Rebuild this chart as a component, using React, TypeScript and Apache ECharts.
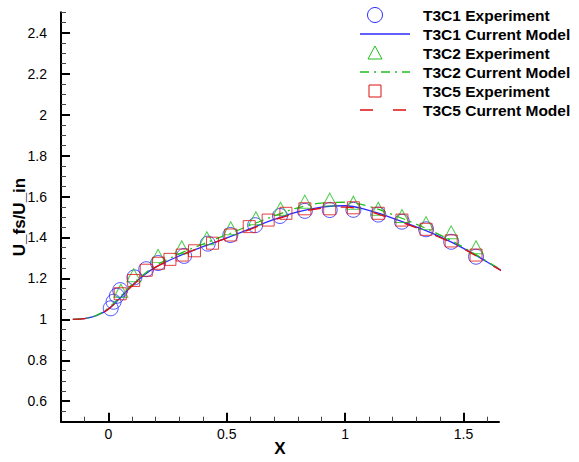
import React, { useEffect, useRef } from "react";
import * as echarts from "echarts";

// ---- Data ----
const modelX = [-0.15, -0.1, -0.05, 0, 0.05, 0.1, 0.15, 0.2, 0.3, 0.4, 0.5, 0.6, 0.7, 0.8, 0.9, 1.0, 1.1, 1.2, 1.3, 1.4, 1.5, 1.6, 1.71];
const t3c1Model = [1.0, 1.004, 1.018, 1.05, 1.105, 1.165, 1.215, 1.255, 1.31, 1.355, 1.398, 1.443, 1.488, 1.525, 1.548, 1.555, 1.532, 1.495, 1.452, 1.404, 1.347, 1.28, 1.203];
const t3c2Model = [1.0, 1.004, 1.02, 1.055, 1.11, 1.17, 1.22, 1.262, 1.32, 1.368, 1.413, 1.46, 1.505, 1.545, 1.568, 1.572, 1.552, 1.512, 1.465, 1.413, 1.352, 1.283, 1.205];
const t3c5Model = [1.0, 1.004, 1.018, 1.05, 1.105, 1.163, 1.213, 1.255, 1.31, 1.355, 1.397, 1.44, 1.485, 1.52, 1.543, 1.548, 1.528, 1.49, 1.448, 1.4, 1.345, 1.278, 1.204];

const t3c1ExpX = [0.01, 0.022, 0.036, 0.05, 0.11, 0.16, 0.21, 0.32, 0.42, 0.515, 0.62, 0.725, 0.83, 0.935, 1.035, 1.14, 1.24, 1.342, 1.448, 1.553];
const t3c1ExpY = [1.054, 1.086, 1.115, 1.143, 1.205, 1.245, 1.275, 1.31, 1.37, 1.412, 1.46, 1.505, 1.53, 1.534, 1.535, 1.512, 1.477, 1.44, 1.379, 1.306];

const t3c2ExpX = [0.053, 0.107, 0.21, 0.31, 0.416, 0.517, 0.623, 0.727, 0.83, 0.935, 1.035, 1.14, 1.24, 1.342, 1.448, 1.553];
const t3c2ExpY = [1.14, 1.215, 1.31, 1.352, 1.396, 1.445, 1.494, 1.54, 1.575, 1.585, 1.57, 1.54, 1.505, 1.47, 1.425, 1.352];

const t3c5ExpX = [0.05, 0.107, 0.16, 0.212, 0.26, 0.312, 0.364, 0.44, 0.517, 0.595, 0.675, 0.75, 0.83, 0.935, 1.035, 1.14, 1.24, 1.342, 1.448, 1.553];
const t3c5ExpY = [1.125, 1.19, 1.24, 1.274, 1.293, 1.314, 1.335, 1.372, 1.412, 1.453, 1.485, 1.518, 1.54, 1.54, 1.545, 1.518, 1.485, 1.44, 1.383, 1.314];

const xMajor = [0, 0.5, 1, 1.5];
const xMinor = [-0.1, 0.1, 0.2, 0.3, 0.4, 0.6, 0.7, 0.8, 0.9, 1.1, 1.2, 1.3, 1.4, 1.6];
const yMajor = [0.6, 0.8, 1, 1.2, 1.4, 1.6, 1.8, 2, 2.2, 2.4];
const yMinor = [0.55, 0.65, 0.7, 0.75, 0.85, 0.9, 0.95, 1.05, 1.1, 1.15, 1.25, 1.3, 1.35, 1.45, 1.5, 1.55, 1.65, 1.7, 1.75, 1.85, 1.9, 1.95, 2.05, 2.1, 2.15, 2.25, 2.3, 2.35, 2.45, 2.5];

const legendLabels = ["T3C1 Experiment", "T3C1 Current Model", "T3C2 Experiment", "T3C2 Current Model", "T3C5 Experiment", "T3C5 Current Model"];

const BLUE = "#2b2bff";
const GREEN = "#1fbf1f";
const RED = "#dd1111";
const FONT = '"Liberation Sans", Arial, Helvetica, sans-serif';

const zip = (xs: number[], ys: number[]) => xs.map((x, i) => [x, ys[i]]);

export default function App() {
  const ref = useRef<HTMLDivElement>(null);
  useEffect(() => {
    if (!ref.current) return;
    const chart = echarts.init(ref.current, null, { renderer: "svg" });
    const fmt = (v: number) => String(Math.round(v * 100) / 100);
    const rowsY = [15, 34, 53, 72, 91, 110];
    const lx = 375;
    const tx = 423;
    const graphics: any[] = [
      { type: "circle", shape: { cx: lx, cy: rowsY[0], r: 7.5 }, style: { fill: "none", stroke: BLUE, lineWidth: 1 } },
      { type: "line", shape: { x1: 360, y1: rowsY[1], x2: 410, y2: rowsY[1] }, style: { stroke: BLUE, lineWidth: 1.3 } },
      { type: "polygon", shape: { points: [[lx, rowsY[2] - 7], [lx - 7, rowsY[2] + 6], [lx + 7, rowsY[2] + 6]] }, style: { fill: "none", stroke: GREEN, lineWidth: 1 } },
      { type: "line", shape: { x1: 360, y1: rowsY[3], x2: 410, y2: rowsY[3] }, style: { stroke: GREEN, lineWidth: 1.3, lineDash: [9, 5, 2, 5] } },
      { type: "rect", shape: { x: lx - 6, y: rowsY[4] - 6, width: 12, height: 12 }, style: { fill: "none", stroke: RED, lineWidth: 1 } },
      { type: "line", shape: { x1: 360, y1: rowsY[5], x2: 410, y2: rowsY[5] }, style: { stroke: RED, lineWidth: 1.3, lineDash: [13, 20] } },
    ];
    legendLabels.forEach((t, i) => {
      graphics.push({
        type: "text",
        x: tx,
        y: rowsY[i],
        style: { text: t, fill: "#000", font: `bold 15.5px ${FONT}`, textVerticalAlign: "middle", textAlign: "left" },
      });
    });

    const baseX = {
      type: "value",
      min: -0.2,
      max: 1.65,
      splitLine: { show: false },
    };
    const baseY = {
      type: "value",
      min: 0.5,
      max: 2.5,
      splitLine: { show: false },
    };

    chart.setOption({
      animation: false,
      backgroundColor: "#fff",
      grid: { left: 61, right: 80, top: 12.3, bottom: 40.3, containLabel: false, outerBoundsMode: "none" },
      xAxis: [
        {
          ...baseX,
          position: "bottom",
          name: "X",
          nameLocation: "middle",
          nameGap: 18,
          nameMoveOverlap: false,
          nameTextStyle: { fontFamily: FONT, fontWeight: "bold", fontSize: 17, color: "#000" },
          axisLine: { show: true, onZero: false, lineStyle: { color: "#000", width: 2 } },
          axisTick: { show: true, inside: true, length: 9, lineStyle: { color: "#000", width: 2 }, customValues: xMajor },
          axisLabel: { show: true, customValues: xMajor, formatter: fmt, color: "#000", fontFamily: FONT, fontSize: 14, margin: 5 },
        },
        {
          ...baseX,
          position: "bottom",
          offset: 0,
          axisLine: { show: false, onZero: false },
          axisTick: { show: true, inside: true, length: 5, lineStyle: { color: "#444", width: 1 }, customValues: xMinor },
          axisLabel: { show: false },
        },
      ],
      yAxis: [
        {
          ...baseY,
          position: "left",
          name: "U_fs/U_in",
          nameLocation: "middle",
          nameGap: 33,
          nameMoveOverlap: false,
          nameTextStyle: { fontFamily: FONT, fontWeight: "bold", fontSize: 17, color: "#000" },
          axisLine: { show: true, onZero: false, lineStyle: { color: "#000", width: 2 } },
          axisTick: { show: true, inside: true, length: 9, lineStyle: { color: "#000", width: 2 }, customValues: yMajor },
          axisLabel: { show: true, customValues: yMajor, formatter: fmt, color: "#000", fontFamily: FONT, fontSize: 14, margin: 14 },
        },
        {
          ...baseY,
          position: "left",
          offset: 0,
          axisLine: { show: false, onZero: false },
          axisTick: { show: true, inside: true, length: 5, lineStyle: { color: "#444", width: 1 }, customValues: yMinor },
          axisLabel: { show: false },
        },
      ],
      series: [
        {
          type: "scatter",
          name: "T3C1 Experiment",
          data: zip(t3c1ExpX, t3c1ExpY),
          symbol: "circle",
          symbolSize: 15,
          itemStyle: { color: "none", borderColor: BLUE, borderWidth: 1 },
          z: 2,
        },
        {
          type: "line",
          name: "T3C1 Current Model",
          data: zip(modelX, t3c1Model),
          smooth: 0.4,
          showSymbol: false,
          clip: false,
          lineStyle: { color: BLUE, width: 1.3 },
          z: 3,
        },
        {
          type: "scatter",
          name: "T3C2 Experiment",
          data: zip(t3c2ExpX, t3c2ExpY),
          symbol: "triangle",
          symbolSize: [14, 13],
          itemStyle: { color: "none", borderColor: GREEN, borderWidth: 1 },
          z: 4,
        },
        {
          type: "line",
          name: "T3C2 Current Model",
          data: zip(modelX, t3c2Model),
          smooth: 0.4,
          showSymbol: false,
          clip: false,
          lineStyle: { color: GREEN, width: 1.3, type: [9, 5, 2, 5] },
          z: 5,
        },
        {
          type: "scatter",
          name: "T3C5 Experiment",
          data: zip(t3c5ExpX, t3c5ExpY),
          symbol: "rect",
          symbolSize: 12,
          itemStyle: { color: "none", borderColor: RED, borderWidth: 1 },
          z: 6,
        },
        {
          type: "line",
          name: "T3C5 Current Model",
          data: zip(modelX, t3c5Model),
          smooth: 0.4,
          showSymbol: false,
          clip: false,
          lineStyle: { color: RED, width: 1.3, type: [13, 20] },
          z: 7,
        },
      ],
      graphic: graphics,
    });
    return () => chart.dispose();
  }, []);
  return <div ref={ref} style={{ position: "fixed", left: 0, top: 0, width: 579, height: 462, background: "#fff" }} />;
}
